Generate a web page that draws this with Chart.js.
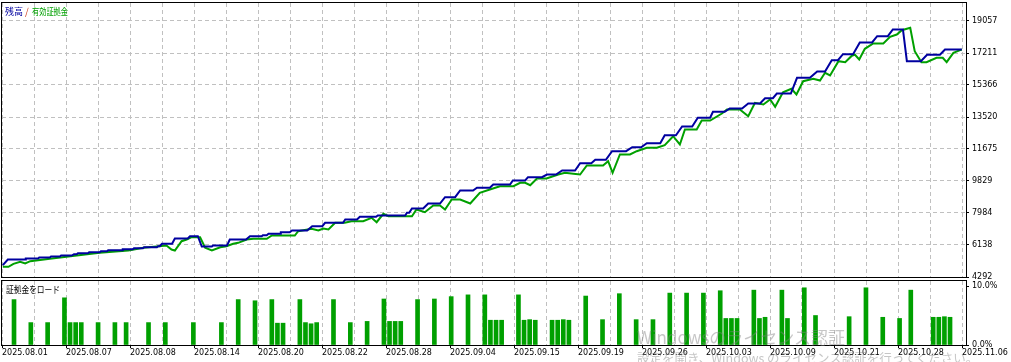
<!DOCTYPE html>
<html>
<head>
<meta charset="utf-8">
<script src="https://cdn.jsdelivr.net/npm/chart.js@4.4.1/dist/chart.umd.min.js"></script>
<style>
  body { margin: 0; background: #fff; width: 1011px; height: 362px; overflow: hidden; position: relative; }
  #top { position: absolute; left: 0; top: 0; width: 1011px; height: 280px; }
  #bot { position: absolute; left: 0; top: 279px; width: 1011px; height: 83px; background: #fff; }
  .wm { position: absolute; font-family: "Noto Sans CJK JP"; color: rgba(128,128,128,0.45); white-space: nowrap; line-height: 1; }
</style>
</head>
<body>
<div id="top"><canvas id="equityChart"></canvas></div>
<div id="bot"><canvas id="loadChart"></canvas></div>
<div class="wm" style="left:637px;top:328px;font-size:17px">Windowsのライセンス認証</div>
<div class="wm" style="left:637px;top:352px;font-size:12.5px">設定を開き、Windows のライセンス認証を行ってください。</div>
<script>
// dates under every second grid line
const xLabels = ["2025.08.01", "2025.08.07", "2025.08.08", "2025.08.14", "2025.08.20", "2025.08.22",
  "2025.08.28", "2025.09.04", "2025.09.15", "2025.09.19", "2025.09.26", "2025.10.03",
  "2025.10.09", "2025.10.21", "2025.10.28", "2025.11.06"];
const yTicks = [4292, 6138, 7984, 9829, 11675, 13520, 15366, 17211, 19057];
const loadTicks = [0, 10];

// [trade number, balance]
const balancePts = [[0,4973],[0.9,5301],[4,5301],[4.1,5359],[6.3,5359],[6.5,5417],[8.4,5417],[8.6,5474],
  [10.2,5474],[10.4,5532],[12.3,5532],[12.7,5607],[13.2,5607],[13.4,5665],[15.2,5665],[15.4,5722],
  [17.3,5722],[17.5,5780],[18.6,5780],[18.8,5838],[21.3,5838],[21.4,5895],[23.2,5895],[23.4,5953],
  [25,5953],[25.2,6011],[27.5,6011],[27.7,6068],[28,6068],[28.4,6207],[30.2,6207],[30.7,6512],
  [33,6512],[33.4,6645],[34.8,6645],[35.5,6051],[37.3,6051],[37.5,6109],[40,6109],[40.5,6455],
  [43.4,6455],[44.1,6645],[46.2,6645],[46.4,6703],[47.1,6703],[47.4,6784],[49.5,6784],[49.6,6876],
  [51.2,6876],[51.6,6974],[54.3,6974],[55.2,7222],[57,7222],[57.5,7418],[60.7,7418],[61.1,7608],
  [63.2,7608],[63.7,7764],[66.6,7764],[66.9,7839],[71.8,7839],[72.1,7995],[72.5,7995],[73,8243],
  [75,8243],[75.9,8531],[78,8531],[78.9,8894],[80.7,8894],[81.6,9281],[83.9,9281],[84.6,9437],
  [86.9,9437],[87.5,9627],[90.5,9627],[91,9858],[93.2,9858],[93.7,10048],[96.2,10048],[97.1,10204],
  [98.7,10204],[99.8,10434],[102.1,10434],[103,10855],[105,10855],[105.7,11052],[107.6,11052],
  [108.7,11548],[111.2,11548],[112.3,11778],[113.9,11778],[114.9,12009],[117.3,12009],[118.1,12470],
  [120.1,12470],[121.2,12972],[123,12972],[124,13474],[126.2,13474],[126.7,13820],[128.8,13820],
  [129.7,14010],[131.9,14010],[133,14299],[135.1,14299],[136,14604],[137.4,14604],[138.1,14875],
  [140.6,14875],[141.7,15781],[144,15781],[145.3,16144],[146.7,16144],[147.9,16796],[149,16796],
  [149.9,17142],[151.7,17142],[152.9,17817],[155.1,17817],[156,18180],[157.9,18180],[158.8,18567],
  [160.6,18567],[161.3,16738],[163.8,16738],[164.9,17107],[167.2,17107],[168.1,17413],[171.1,17413]];

// [trade number, equity]
const equityPts = [[0,4880],[1,4880],[1.9,5053],[3.1,5169],[4,5071],[4.9,5203],[8.4,5342],[13.2,5532],
  [17.3,5688],[22.4,5820],[25.1,5976],[29.2,6109],[30.1,5878],[30.7,5820],[31.9,6357],[32.8,6455],
  [33.7,6587],[35.2,6587],[36.1,5976],[37.3,5820],[38.8,6011],[39.9,6068],[41.1,6207],[42,6264],
  [43.5,6455],[44.7,6495],[47.1,6495],[48,6686],[52.1,6686],[52.7,6934],[55.1,7072],[56.3,6974],
  [57.2,7089],[58.1,7032],[59.3,7418],[61,7418],[62.2,7510],[64.3,7510],[65.8,7706],[66.7,7453],
  [67.9,7937],[68.8,7799],[73,7799],[73.8,8185],[75.3,8029],[76.8,8416],[78,8416],[78.9,8185],
  [80.1,8762],[81.6,8762],[83.4,8531],[85.1,9148],[86.9,9339],[88.7,9529],[91.1,9529],[92.3,9725],
  [93.2,9725],[94.1,9587],[95.3,9973],[97,9973],[99.1,10204],[100.3,10302],[101.8,10244],[103,10204],
  [104.2,10723],[107.1,10723],[108,10971],[108.8,10302],[110.1,11357],[111.9,11357],[113.1,11548],
  [114.9,11744],[116.7,11744],[118.1,11893],[119.6,12413],[120.8,11934],[121.7,12799],[123.8,12799],
  [124.7,13318],[126.2,13318],[128.3,13722],[129.2,13953],[131.5,13953],[133,13566],[134.2,14339],
  [135.7,14241],[136.9,14529],[137.8,14108],[139.2,14950],[140.7,15146],[141.6,14818],[142.8,15585],
  [144.6,15723],[145.8,15625],[146.7,16069],[147.6,15914],[149.1,16738],[150.3,16681],[151.4,17027],
  [152,17125],[152.8,16836],[153.8,17453],[155.3,17759],[157.1,17759],[158.3,18146],[159.5,18278],
  [160.4,18526],[161.9,18665],[162.7,17315],[163.9,16681],[164.8,16681],[166.6,16934],[167.7,16934],
  [168.4,16681],[169.6,17223],[170.8,17373],[171.1,17413]];

// margin load per trade (%)
const loadIdx = [2,5,8,11,12,13,14,17,20,22,26,29,34,39,42,45,48,49,50,53,54,55,56,59,62,65,68,69,70,71,
  74,77,80,83,86,87,88,89,92,93,94,95,98,99,100,101,104,107,110,113,116,119,122,125,128,129,130,131,
  134,135,136,139,140,143,145,151,154,157,160,162,166,167,168,169];
const loadPct = [7.7,3.8,3.8,8.0,3.8,3.8,3.8,3.8,3.8,3.8,3.8,3.8,3.8,3.8,7.7,7.5,7.7,3.7,3.7,7.7,3.8,3.6,3.8,
  7.7,3.8,4.0,7.8,4.0,4.0,4.0,7.7,7.8,8.2,8.5,8.5,4.2,4.2,4.2,8.5,4.2,4.3,4.2,4.2,4.2,4.3,4.2,8.3,4.3,
  8.7,4.3,4.3,8.8,8.8,8.8,9.2,4.5,4.5,4.5,9.3,4.5,4.7,9.3,4.5,9.7,5.0,4.8,9.7,4.7,4.5,9.3,4.7,4.7,4.8,4.7];

const BLUE = "#0000a0";
const GREEN = "#00a000";
const GRID = "#c0c0c0";
const X_MIN = -0.143, X_MAX = 171.85;
const X_STEP = (X_MAX - X_MIN) * 32 / 964;

Chart.defaults.font.family = "DejaVu Sans";
Chart.defaults.font.size = 8;
Chart.defaults.color = "#000";
Chart.defaults.animation = false;

const frame = {
  id: "frame",
  afterDraw(chart) {
    const a = chart.chartArea, ctx = chart.ctx;
    ctx.save();
    ctx.strokeStyle = "#000";
    ctx.lineWidth = 1;
    ctx.strokeRect(a.left - 0.5, a.top - 0.5, a.right - a.left + 1, a.bottom - a.top + 1);
    ctx.restore();
  }
};

function legend(parts) {
  return {
    id: "legend",
    afterDraw(chart) {
      const ctx = chart.ctx;
      ctx.save();
      ctx.textBaseline = "middle";
      ctx.font = '9.5px "Noto Sans CJK JP"';
      parts.forEach(p => {
        ctx.fillStyle = p.color;
        ctx.fillText(p.text, p.x, p.y, p.w);
      });
      ctx.restore();
    }
  };
}

function xAxis(withLabels) {
  return {
    type: "linear",
    min: X_MIN,
    max: X_MAX,
    offset: false,
    afterBuildTicks: s => {
      s.ticks = Array.from({ length: 31 }, (_, k) => ({ value: X_MIN + k * X_STEP }));
    },
    afterFit: s => {
      s.height = withLabels ? 17 : 3;
      s.paddingLeft = 0;
      s.paddingRight = 0;
    },
    grid: {
      color: GRID,
      offset: false,
      drawTicks: withLabels,
      tickLength: 3,
      tickColor: c => (c.index % 2 === 0 ? "#000" : "rgba(0,0,0,0)"),
      tickBorderDash: []
    },
    border: { display: false, dash: [4, 3] },
    ticks: {
      display: withLabels,
      autoSkip: false,
      maxRotation: 0,
      align: "start",
      padding: 0,
      callback: (v, i) => (i % 2 === 0 ? xLabels[i / 2] : "")
    }
  };
}

new Chart(document.getElementById("equityChart"), {
  type: "line",
  data: {
    datasets: [{
      label: "残高",
      data: balancePts.map(([x, y]) => ({ x, y })),
      borderColor: BLUE,
      borderWidth: 2,
      pointRadius: 0,
      tension: 0
    }, {
      label: "有効証拠金",
      data: equityPts.map(([x, y]) => ({ x, y })),
      borderColor: GREEN,
      borderWidth: 2,
      pointRadius: 0,
      tension: 0
    }]
  },
  options: {
    responsive: true,
    maintainAspectRatio: false,
    layout: { padding: { left: 2, top: 3, right: 0, bottom: 0 } },
    plugins: { legend: { display: false }, tooltip: { enabled: false } },
    scales: {
      x: xAxis(false),
      y: {
        position: "right",
        min: 4292,
        max: 20095,
        afterBuildTicks: s => { s.ticks = yTicks.map(v => ({ value: v })); },
        afterFit: s => { s.width = 45; s.paddingTop = 0; s.paddingBottom = 0; },
        grid: { color: GRID, tickLength: 3, tickColor: "#000", tickBorderDash: [] },
        border: { display: false, dash: [4, 3] },
        ticks: { padding: 3, callback: v => String(v) }
      }
    }
  },
  plugins: [frame, legend([
    { text: "残高", x: 5, y: 11, color: BLUE, w: 18 },
    { text: "/", x: 25, y: 11, color: "#d04020", w: 5 },
    { text: "有効証拠金", x: 32, y: 11, color: GREEN, w: 36 }
  ])]
});

new Chart(document.getElementById("loadChart"), {
  type: "bar",
  data: {
    datasets: [{
      label: "証拠金をロード",
      data: loadIdx.map((x, i) => ({ x, y: loadPct[i] })),
      backgroundColor: GREEN,
      barThickness: 4,
      borderWidth: 0
    }]
  },
  options: {
    responsive: true,
    maintainAspectRatio: false,
    layout: { padding: { left: 2, top: 2, right: 0, bottom: 0 } },
    plugins: { legend: { display: false }, tooltip: { enabled: false } },
    scales: {
      x: xAxis(true),
      y: {
        position: "right",
        min: 0,
        max: 10.85,
        afterBuildTicks: s => { s.ticks = loadTicks.map(v => ({ value: v })); },
        afterFit: s => { s.width = 45; s.paddingTop = 0; s.paddingBottom = 0; },
        grid: { drawOnChartArea: false, tickLength: 3, tickColor: "#000" },
        border: { display: false },
        ticks: { padding: 3, callback: v => v.toFixed(1) + "%" }
      }
    }
  },
  plugins: [frame, legend([
    { text: "証拠金をロード", x: 6, y: 10, color: "#000", w: 54 }
  ])]
});
</script>
</body>
</html>
